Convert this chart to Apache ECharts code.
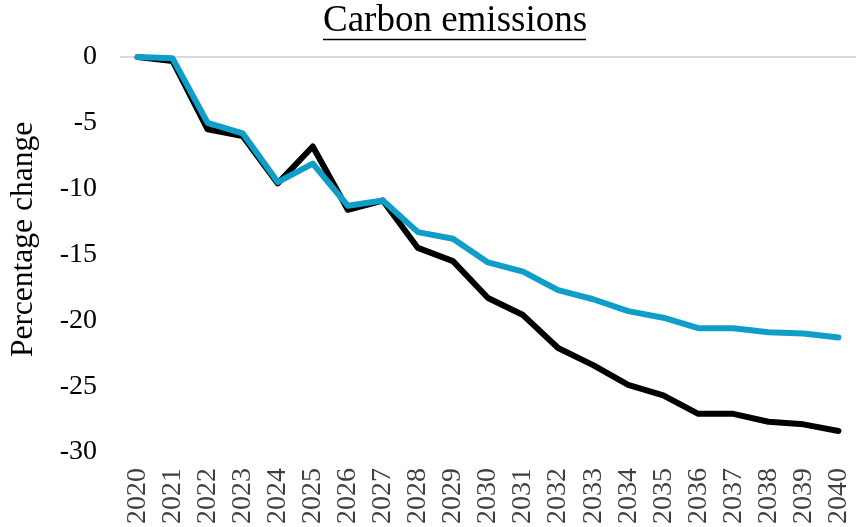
<!DOCTYPE html>
<html>
<head>
<meta charset="utf-8">
<script src="https://cdn.jsdelivr.net/npm/echarts@6/dist/echarts.min.js"></script>
<style>
  html, body { margin: 0; padding: 0; background: #fff; }
  #chart { width: 856px; height: 527px; }
</style>
</head>
<body>
<div id="chart"></div>
<script>
// Projected change in carbon emissions, per cent relative to 2020
const years = ['2020','2021','2022','2023','2024','2025','2026','2027','2028','2029','2030',
               '2031','2032','2033','2034','2035','2036','2037','2038','2039','2040'];
const seriesBlack = [0, -0.3, -5.5, -6.0, -9.6, -6.8, -11.6, -10.9, -14.5, -15.5, -18.3,
                     -19.6, -22.1, -23.4, -24.9, -25.7, -27.1, -27.1, -27.7, -27.9, -28.4];
const seriesBlue  = [0, -0.1, -5.0, -5.8, -9.5, -8.1, -11.3, -10.9, -13.3, -13.8, -15.6,
                     -16.3, -17.7, -18.4, -19.3, -19.8, -20.6, -20.6, -20.9, -21.0, -21.3];
const yTicks = { min: -30, max: 0, step: 5 };

const FONT = '"Liberation Serif", "Times New Roman", serif';
const chart = echarts.init(document.getElementById('chart'), null, { renderer: 'canvas' });

// only the zero line is visible among the split lines
const nSplit = (yTicks.max - yTicks.min) / yTicks.step + 1;
const splitColors = Array.from({ length: nSplit }, (_, i) => i === nSplit - 1 ? '#d9d9d9' : 'rgba(0,0,0,0)');

chart.setOption({
  animation: false,
  backgroundColor: '#ffffff',
  title: {
    text: 'Carbon emissions',
    left: 323,
    top: 3,
    padding: 0,
    textStyle: { fontFamily: FONT, fontSize: 37, fontWeight: 'normal', color: '#000' }
  },
  graphic: [{
    type: 'line',
    shape: { x1: 323, y1: 39.5, x2: 586, y2: 39.5 },
    style: { stroke: '#000', lineWidth: 1.5 },
    silent: true
  }],
  grid: { left: 117, right: -3, top: 57, bottom: 73, containLabel: false },
  xAxis: {
    type: 'category',
    data: years,
    boundaryGap: true,
    axisLine: { show: false, onZero: false },
    axisTick: { show: false },
    axisLabel: {
      rotate: 90,
      margin: 16,
      interval: 0,
      fontFamily: FONT,
      fontSize: 28,
      color: '#404040'
    }
  },
  yAxis: {
    type: 'value',
    min: yTicks.min,
    max: yTicks.max,
    interval: yTicks.step,
    name: 'Percentage change',
    nameLocation: 'middle',
    nameGap: 80,
    nameTextStyle: { fontFamily: FONT, fontSize: 31.5, color: '#000', padding: [0, 0, 0, 30] },
    axisLine: { show: false },
    axisTick: { show: false },
    axisLabel: { margin: 23, fontFamily: FONT, fontSize: 28, color: '#000' },
    splitLine: { show: true, lineStyle: { color: splitColors, width: 2 } }
  },
  series: [
    {
      type: 'line',
      data: seriesBlack,
      symbol: 'none',
      lineStyle: { color: '#000000', width: 6, cap: 'round', join: 'round' },
      z: 2
    },
    {
      type: 'line',
      data: seriesBlue,
      symbol: 'none',
      lineStyle: { color: '#0f9ec8', width: 6, cap: 'round', join: 'round' },
      z: 3
    }
  ]
});
</script>
</body>
</html>
